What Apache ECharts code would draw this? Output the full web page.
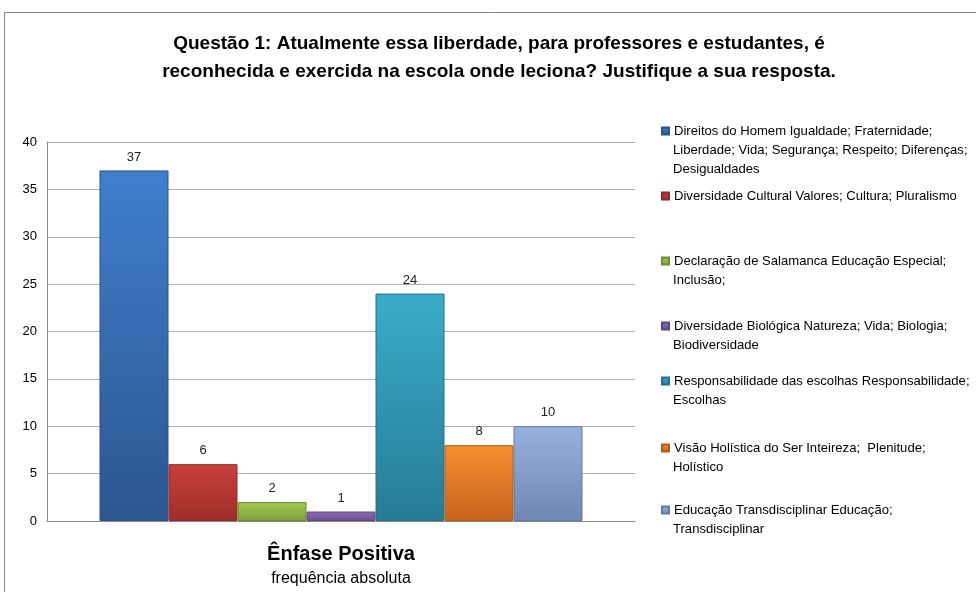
<!DOCTYPE html>
<html>
<head>
<meta charset="utf-8">
<script src="https://cdn.jsdelivr.net/npm/echarts@6/dist/echarts.min.js"></script>
<style>
  html, body { margin: 0; padding: 0; background: #fff; }
  #chart { width: 976px; height: 592px; }
</style>
</head>
<body>
<div id="chart"></div>
<script>
const categories = ["Ênfase Positiva"];
const seriesNames = [
  "Direitos do Homem Igualdade; Fraternidade; Liberdade; Vida; Segurança; Respeito; Diferenças; Desigualdades",
  "Diversidade Cultural Valores; Cultura; Pluralismo",
  "Declaração de Salamanca Educação Especial; Inclusão;",
  "Diversidade Biológica Natureza; Vida; Biologia; Biodiversidade",
  "Responsabilidade das escolhas Responsabilidade; Escolhas",
  "Visão Holística do Ser Inteireza;  Plenitude; Holístico",
  "Educação Transdisciplinar Educação; Transdisciplinar",
];
// legend text as wrapped in the picture
const legendLines = [
  ["Direitos do Homem Igualdade; Fraternidade;", "Liberdade; Vida; Segurança; Respeito; Diferenças;", "Desigualdades"],
  ["Diversidade Cultural Valores; Cultura; Pluralismo"],
  ["Declaração de Salamanca Educação Especial;", "Inclusão;"],
  ["Diversidade Biológica Natureza; Vida; Biologia;", "Biodiversidade"],
  ["Responsabilidade das escolhas Responsabilidade;", "Escolhas"],
  ["Visão Holística do Ser Inteireza;  Plenitude;", "Holístico"],
  ["Educação Transdisciplinar Educação;", "Transdisciplinar"],
];
const values = [37, 6, 2, 1, 24, 8, 10];
const yTicks = [0, 5, 10, 15, 20, 25, 30, 35, 40];

const colorsTop = ["#3f7fcc", "#c9403a", "#a0c855", "#8b6fb2", "#3aaccb", "#f68d30", "#97b2de"];
const colorsBottom = ["#2b5690", "#9e2e2a", "#7c9f38", "#6a4d90", "#267c95", "#c9641e", "#6f86b5"];
const borders = ["#2a5386", "#8e2a26", "#6f8f32", "#5e4482", "#23708a", "#b55a1b", "#64799f"];

const font = "Liberation Sans, Arial, sans-serif";
const legendFont = 13.1;
const lineH = 19;
const firstLineY = [131, 196, 261, 326, 381, 448, 510];
const legendLeft = 661;
const textLeft = legendLeft + 7 + 5;

const chart = echarts.init(document.getElementById("chart"));

const legends = seriesNames.map(function (name, i) {
  return {
    left: legendLeft,
    top: firstLineY[i] - lineH / 2,
    padding: 0,
    itemWidth: 7,
    itemHeight: 7,
    icon: "rect",
    data: [name],
    formatter: function () {
      return legendLines[i][0];
    },
    textStyle: {
      fontFamily: font,
      fontSize: legendFont,
      color: "#000",
      lineHeight: lineH,
    },
  };
});

// continuation lines of the wrapped legend entries
const legendExtra = [];
legendLines.forEach(function (lines, i) {
  lines.slice(1).forEach(function (line, k) {
    legendExtra.push({
      type: "text",
      left: textLeft,
      top: firstLineY[i] + (k + 1) * lineH - lineH / 2,
      silent: true,
      style: {
        text: line,
        fontFamily: font,
        fontSize: legendFont,
        fill: "#000",
        lineHeight: lineH,
      },
    });
  });
});

const series = seriesNames.map(function (name, i) {
  return {
    name: name,
    type: "bar",
    barWidth: 69,
    barGap: "0%",
    data: [values[i]],
    itemStyle: {
      color: new echarts.graphic.LinearGradient(0, 0, 0, 1, [
        { offset: 0, color: colorsTop[i] },
        { offset: 1, color: colorsBottom[i] },
      ]),
      borderColor: borders[i],
      borderWidth: 1,
    },
    label: {
      show: true,
      position: "top",
      distance: 7,
      fontFamily: font,
      fontSize: 13,
      color: "#222",
    },
  };
});

chart.setOption({
  backgroundColor: "#fff",
  animation: false,
  color: colorsTop,
  title: {
    text: "Questão 1: Atualmente essa liberdade, para professores e estudantes, é\nreconhecida e exercida na escola onde leciona? Justifique a sua resposta.",
    left: 499,
    textAlign: "center",
    top: 30,
    padding: 0,
    textStyle: {
      fontFamily: font,
      fontSize: 19,
      fontWeight: "bold",
      color: "#000",
      lineHeight: 28,
    },
  },
  graphic: [
    {
      type: "rect",
      shape: { x: 4.5, y: 12.5, width: 990, height: 600 },
      style: { fill: "none", stroke: "#888", lineWidth: 1 },
      silent: true,
      z: -1,
    },
  ].concat(legendExtra),
  legend: legends,
  grid: {
    left: 47,
    right: 341,
    top: 142,
    bottom: 71,
  },
  xAxis: {
    type: "category",
    data: categories,
    name: "frequência absoluta",
    nameLocation: "middle",
    nameGap: 50,
    nameTextStyle: { fontFamily: font, fontSize: 16, color: "#000" },
    axisTick: { show: false },
    axisLine: { lineStyle: { color: "#888" } },
    axisLabel: {
      margin: 23,
      fontFamily: font,
      fontSize: 20,
      fontWeight: "bold",
      color: "#000",
    },
  },
  yAxis: {
    type: "value",
    min: yTicks[0],
    max: yTicks[yTicks.length - 1],
    interval: 5,
    axisLine: { show: true, lineStyle: { color: "#888" } },
    axisTick: { show: false },
    axisLabel: { margin: 10, fontFamily: font, fontSize: 13, color: "#000" },
    splitLine: { lineStyle: { color: "#b0b0b0" } },
  },
  series: series,
});
</script>
</body>
</html>
